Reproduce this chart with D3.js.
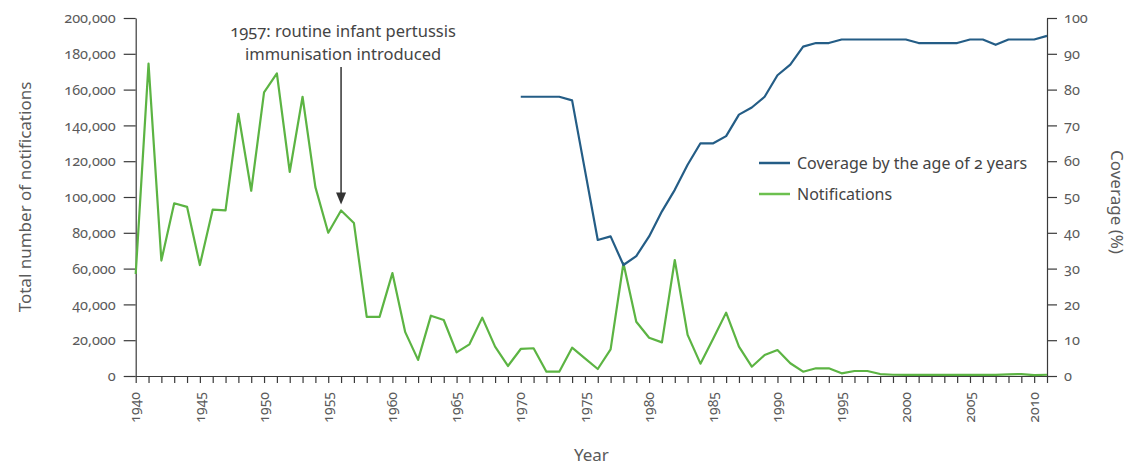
<!DOCTYPE html>
<html>
<head>
<meta charset="utf-8">
<script src="https://cdn.jsdelivr.net/npm/d3@7"></script>
<style>
  html, body { margin: 0; padding: 0; background: #fff; }
  svg text { font-family: "Noto Sans", "Open Sans", sans-serif; font-variant-numeric: oldstyle-nums; }
</style>
</head>
<body>
<svg id="chart" width="1130" height="465"></svg>
<script>
// ---------------- data ----------------
const startYear = 1940;
const notifications = [
  57000, 174500, 64500, 96500, 94500, 62000, 93000, 92500, 146500, 103500,   // 1940-1949
  158500, 169000, 114000, 156000, 105500, 80000, 92500, 85500, 33000, 33000, // 1950-1959
  57500, 24500, 9000, 33700, 31300, 13200, 17700, 32600, 16400, 5600,        // 1960-1969
  15100, 15500, 2400, 2400, 15800, 9900, 3900, 14900, 63000, 30300,          // 1970-1979
  21400, 18800, 64800, 23000, 6900, 21000, 35400, 16400, 5200, 11700,        // 1980-1989
  14500, 7100, 2400, 4300, 4300, 1500, 2800, 2800, 1100, 700,                // 1990-1999
  600, 600, 600, 600, 600, 600, 600, 600, 900, 1100,                         // 2000-2009
  500, 700                                                                   // 2010-2011
];
const coverageStartYear = 1970;
const coverage = [
  78, 78, 78, 78, 77, 57.5, 38, 39, 31, 33.5,   // 1970-1979
  39, 46, 52, 59, 65, 65, 67, 73, 75, 78,       // 1980-1989
  84, 87, 92, 93, 93, 94, 94, 94, 94, 94,       // 1990-1999
  94, 93, 93, 93, 93, 94, 94, 92.5, 94, 94,     // 2000-2009
  94, 95                                        // 2010-2011
];
const leftTicks = [0, 20000, 40000, 60000, 80000, 100000, 120000, 140000, 160000, 180000, 200000];
const rightTicks = [0, 10, 20, 30, 40, 50, 60, 70, 80, 90, 100];
const labelEvery = 5;
const seriesNames = ["Coverage by the age of 2 years", "Notifications"];
const annotationYear = 1956;
const annotationLines = ["1957: routine infant pertussis", "immunisation introduced"];
const axisTitles = { left: "Total number of notifications", right: "Coverage (%)", bottom: "Year" };

// ---------------- layout ----------------
const plot = { left: 135.7, right: 1047, top: 18, bottom: 376 };
const colors = { coverage: "#245d86", notif: "#5cb443", notifLegend: "#6cc04f", text: "#5a5a5a", axis: "#3a3a3a", arrow: "#333" };

const notifData = notifications.map((v, i) => ({ year: startYear + i, value: v }));
const covData = coverage.map((v, i) => ({ year: coverageStartYear + i, value: v }));
const years = notifData.map(d => d.year);

const svg = d3.select("#chart");

const x = d3.scaleLinear().domain([d3.min(years), d3.max(years)]).range([plot.left, plot.right]);
const yL = d3.scaleLinear().domain([0, 200000]).range([plot.bottom, plot.top]);
const yR = d3.scaleLinear().domain([0, 100]).range([plot.bottom, plot.top]);

function styleAxis(g, size) {
  g.select(".domain").attr("stroke", colors.axis).attr("stroke-width", 1.2);
  g.selectAll(".tick line").attr("stroke", colors.axis).attr("stroke-width", 1.2);
  g.selectAll(".tick text").attr("fill", colors.text).style("font-size", size);
}

// x axis
const gx = svg.append("g").attr("transform", `translate(0,${plot.bottom})`)
  .call(d3.axisBottom(x).tickValues(years)
    .tickFormat(d => d % labelEvery === 0 ? String(d) : "")
    .tickSize(7).tickPadding(10).tickSizeOuter(0));
styleAxis(gx, "14px");
gx.selectAll(".tick text")
  .attr("transform", "rotate(-90)")
  .attr("text-anchor", "end")
  .attr("x", -16)
  .attr("y", 0)
  .attr("dy", "0.3em");

// left axis
const gl = svg.append("g").attr("transform", `translate(${plot.left},0)`)
  .call(d3.axisLeft(yL).tickValues(leftTicks).tickFormat(d3.format(",")).tickSize(12).tickPadding(8).tickSizeOuter(0));
styleAxis(gl, "14.5px");

// right axis
const gr = svg.append("g").attr("transform", `translate(${plot.right},0)`)
  .call(d3.axisRight(yR).tickValues(rightTicks).tickFormat(d3.format("d")).tickSize(10).tickPadding(7).tickSizeOuter(0));
styleAxis(gr, "14.5px");

// axis titles
svg.append("text")
  .attr("transform", `translate(25,${(plot.top + plot.bottom) / 2}) rotate(-90)`)
  .attr("text-anchor", "middle").attr("dy", "0.35em")
  .attr("fill", colors.text).style("font-size", "17px")
  .text(axisTitles.left);
svg.append("text")
  .attr("transform", `translate(1117,${(plot.top + plot.bottom) / 2 + 5}) rotate(90)`)
  .attr("text-anchor", "middle").attr("dy", "0.35em")
  .attr("fill", colors.text).style("font-size", "17px")
  .text(axisTitles.right);
svg.append("text")
  .attr("x", (plot.left + plot.right) / 2).attr("y", 455)
  .attr("text-anchor", "middle").attr("dy", "0.35em")
  .attr("fill", colors.text).style("font-size", "17px")
  .text(axisTitles.bottom);

// lines
const lineL = d3.line().x(d => x(d.year)).y(d => yL(d.value));
const lineR = d3.line().x(d => x(d.year)).y(d => yR(d.value));

svg.append("path").datum(notifData)
  .attr("fill", "none").attr("stroke", colors.notif).attr("stroke-width", 2.2)
  .attr("stroke-linejoin", "round").attr("d", lineL);
svg.append("path").datum(covData)
  .attr("fill", "none").attr("stroke", colors.coverage).attr("stroke-width", 2.2)
  .attr("stroke-linejoin", "round").attr("d", lineR);

// annotation
const ax = x(annotationYear);
const annVal = notifData.find(d => d.year === annotationYear).value;
const tipY = yL(annVal) - 6;
svg.selectAll(".ann").data(annotationLines).join("text")
  .attr("class", "ann")
  .attr("x", ax + 2).attr("y", (d, i) => 31 + i * 23)
  .attr("text-anchor", "middle").attr("dy", "0.35em")
  .attr("fill", "#444").style("font-size", "16.5px")
  .text(d => d);
svg.append("line")
  .attr("x1", ax).attr("x2", ax).attr("y1", 67).attr("y2", tipY - 10)
  .attr("stroke", colors.arrow).attr("stroke-width", 1.5);
svg.append("path")
  .attr("d", `M${ax - 5},${tipY - 12} L${ax + 5},${tipY - 12} L${ax},${tipY} Z`)
  .attr("fill", colors.arrow);

// legend
const legend = svg.append("g");
const legendItems = [
  { name: seriesNames[0], color: colors.coverage },
  { name: seriesNames[1], color: colors.notifLegend }
];
legendItems.forEach((it, i) => {
  const ly = 163 + i * 31;
  legend.append("line").attr("x1", 759).attr("x2", 790).attr("y1", ly).attr("y2", ly)
    .attr("stroke", it.color).attr("stroke-width", 2.5);
  legend.append("text").attr("x", 797).attr("y", ly).attr("dy", "0.35em")
    .attr("fill", "#444").style("font-size", "16px").text(it.name);
});
</script>
</body>
</html>
